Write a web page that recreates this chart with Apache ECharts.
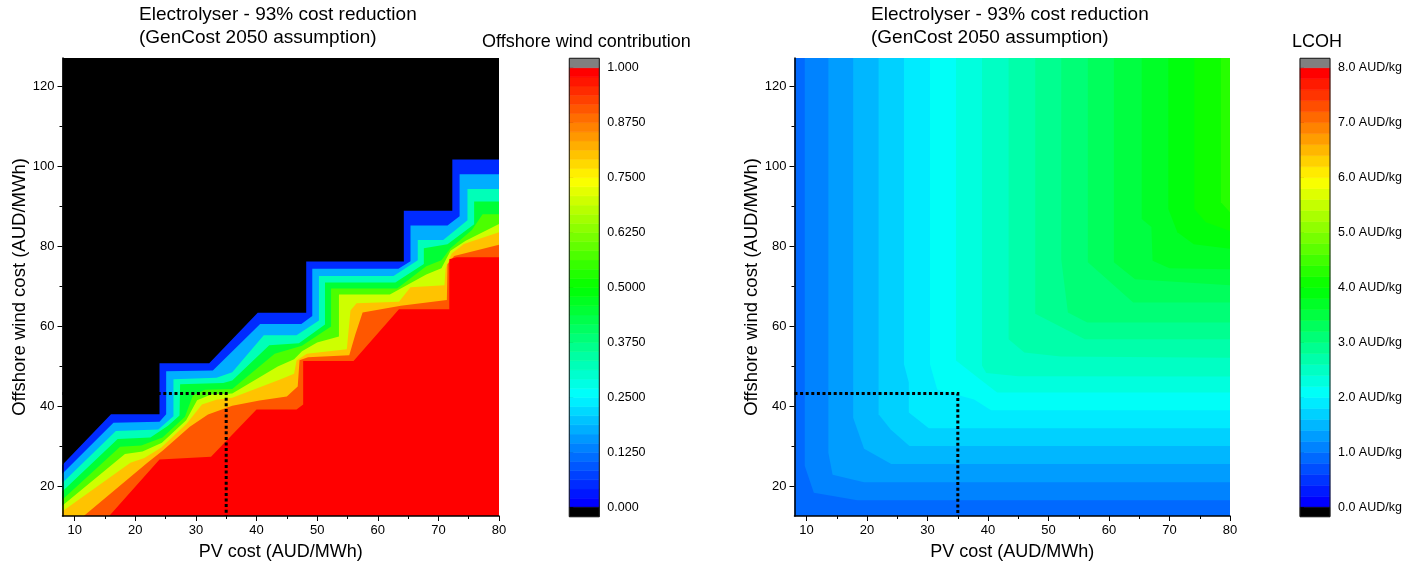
<!DOCTYPE html>
<html>
<head>
<meta charset="utf-8">
<title>Electrolyser - 93% cost reduction contours</title>
<script src="https://cdn.jsdelivr.net/npm/echarts@6.0.0/dist/echarts.min.js"></script>
<style>
html,body{margin:0;padding:0;background:#ffffff;}
#chart{width:1410px;height:566px;}
</style>
</head>
<body>
<div id="chart"></div>
<script>
// ================= DATA =================
const pvRange = [8, 80];          // PV cost axis (AUD/MWh)
const windRange = [12.7, 127];    // Offshore wind cost axis (AUD/MWh)
const pvTicks = [10, 20, 30, 40, 50, 60, 70, 80];
const pvMinorTicks = [15, 25, 35, 45, 55, 65, 75];
const windTicks = [20, 40, 60, 80, 100, 120];
const windMinorTicks = [30, 50, 70, 90, 110];
const markerPV = 35;              // dotted reference: PV cost
const markerWind = 43.3;          // dotted reference: offshore wind cost

// Left panel: offshore wind contribution isolines, points are [PV cost, wind cost]
const contributionLevels = [0, 0.1, 0.25, 0.375, 0.5, 0.625, 0.75, 0.85, 0.95];
const contribIso000 = [[8,25.5],[16,38.1],[24,38.1],[24,50.8],[32.2,50.8],[40.2,63.4],[48.2,63.4],[48.2,76.2],[64.3,76.2],[64.3,88.9],[72.3,88.9],[72.3,101.7],[80,101.7]];
const contribIso010 = [[8,23.3],[16.4,36.0],[24,36.2],[25.1,38.1],[25.1,48.8],[32.8,49.0],[40.6,60.6],[47.4,60.6],[49.2,62.6],[49.2,74.4],[63.4,74.4],[65.4,76.3],[65.4,85.2],[71.5,85.2],[73.5,87.5],[73.5,98.0],[80,98.0]];
const contribIso025 = [[8,21.0],[16.8,33.9],[23.8,34.3],[26.3,37.6],[26.3,46.8],[33.4,47.2],[36,48.6],[41.2,57.8],[46.6,57.8],[50.3,61.5],[50.3,72.6],[62.6,72.6],[66.6,76.5],[66.6,81.6],[70.8,81.6],[74.8,86.5],[74.8,94.3],[80,94.3]];
const contribIso0375 = [[8,18.9],[17.1,31.9],[22.5,32.3],[25.4,35.2],[27.3,37.8],[27.4,45.6],[34.5,45.9],[36,46.5],[42.1,55.3],[47,55.8],[51.3,60.5],[51.3,71.0],[62.9,71.0],[67.6,75.6],[67.6,79.5],[71.5,80.5],[75.9,85.5],[75.9,91.2],[80,91.2]];
const contribIso050 = [[8,16.8],[17.5,30.0],[21,30.3],[24.5,32.3],[28.2,37.5],[29.5,42.8],[31.5,44.2],[36,44.4],[43,53.2],[47.5,55.2],[52.3,60],[52.3,69.5],[63.2,69.5],[68,75],[70.5,76.5],[72,79.5],[75.5,84],[77.3,88],[80,88]];
const contribIso0625 = [[8,15.3],[18.3,28.2],[21.2,28.8],[24.4,31],[28.4,36.6],[30.2,41.6],[32.5,43],[36,43.3],[43.5,50],[46.2,51.8],[47.5,53.8],[50,56],[53.6,57.5],[53.6,68],[62,68],[68,73],[70.5,74.5],[72,78.9],[74.5,81.4],[80,85.6]];
const contribIso075 = [[8,13.9],[19.2,26.0],[21.5,27.2],[24.3,29.8],[28.5,35.8],[31,40.5],[33.5,41.8],[36,42.2],[44,46.8],[46.2,48.2],[46.6,51.5],[48.3,53.2],[54.9,54.3],[55.5,64.0],[56.5,65.8],[63.5,66.2],[65.4,69.8],[71,70.3],[71.2,74.5],[72.2,78.2],[74.2,80.6],[80,83.5]];
const contribIso085 = [[11.5,12.7],[22,26],[24.5,29],[29,35],[32,38],[36,40.2],[40.5,41.5],[45,42.5],[46.8,45],[47.1,51.6],[48.5,52.3],[55.3,52.8],[56.3,58],[57.5,63.5],[63.8,65.2],[71.4,66.6],[71.5,75.5],[72.6,77.6],[80,80.4]];
const contribIso095 = [[15.7,12.7],[24,26.8],[32.5,27.5],[40,39.3],[46.6,39.3],[47.7,40.5],[47.7,51.4],[56,51.4],[63.5,64.3],[71.8,64.3],[71.8,76.8],[73,77.3],[80,77.3]];
const contributionIsolines = [contribIso000, contribIso010, contribIso025, contribIso0375, contribIso050, contribIso0625, contribIso075, contribIso085, contribIso095];

// Right panel: LCOH isolines (AUD/kg), points are [PV cost, wind cost]
const lcohLevels = [1.0, 1.2, 1.4, 1.6, 1.8, 2.0, 2.2, 2.4, 2.6, 2.8, 3.0, 3.2, 3.4, 3.6, 3.8, 4.0, 4.2];
const lcohIsolines = [
  [[9.7,127],[9.7,25.2],[11.2,18.5],[18.4,16.65],[80,16.65]],
  [[13.6,127],[13.6,28.5],[14.3,23.0],[19.5,21.15],[80,21.15]],
  [[17.7,127],[17.7,37.2],[19.5,29.5],[24,25.7],[80,25.7]],
  [[21.9,127],[21.9,38.1],[23.9,34.3],[27,30.15],[80,30.15]],
  [[26.1,127],[26.1,50.6],[26.9,46],[26.9,38.5],[30.2,34.6],[80,34.6]],
  [[30.4,127],[30.4,50.6],[31.6,44.3],[37.7,41.8],[40.5,39.1],[80,39.1]],
  [[34.7,127],[34.7,51.5],[38.5,47],[41.5,43.5],[80,43.5]],
  [[39,127],[39,50.2],[39.7,48.4],[45,47.6],[80,47.5]],
  [[43.4,127],[43.4,56.8],[46,53.5],[52,52.5],[80,52.2]],
  [[47.8,127],[47.8,63.2],[56,56.8],[80,56.8]],
  [[52.1,127],[52.1,76.8],[53.2,63.5],[56.4,61],[80,61]],
  [[56.5,127],[56.5,76],[64,66],[80,66]],
  [[60.8,127],[60.8,76],[64.3,71.8],[80,70.3]],
  [[65.4,127],[65.4,86.8],[67,84.8],[67.2,76.4],[70,74.5],[80,74.3]],
  [[69.8,127],[69.8,89.3],[71.3,83.5],[74,80.5],[80,79.4]],
  [[74.1,127],[74.1,89.3],[76,86],[80,83.8]],
  [[78.5,127],[78.5,91],[80,88.5]]
];

// Colour bars
const contributionBarTicks = [0, 0.125, 0.25, 0.375, 0.5, 0.625, 0.75, 0.875, 1];
const contributionBarLabels = ['0.000', '0.1250', '0.2500', '0.3750', '0.5000', '0.6250', '0.7500', '0.8750', '1.000'];
const lcohBarTicks = [0, 1, 2, 3, 4, 5, 6, 7, 8];
const lcohBarLabels = ['0.0 AUD/kg', '1.0 AUD/kg', '2.0 AUD/kg', '3.0 AUD/kg', '4.0 AUD/kg', '5.0 AUD/kg', '6.0 AUD/kg', '7.0 AUD/kg', '8.0 AUD/kg'];

const panelTitle = 'Electrolyser - 93% cost reduction\n(GenCost 2050 assumption)';
const xName = 'PV cost (AUD/MWh)';
const yName = 'Offshore wind cost (AUD/MWh)';

// ================= STYLE / COLOUR MAP =================
const FONT = "'Liberation Sans', Arial, Helvetica, sans-serif";
const CONTRIB_BANDS = 48;
const CONTRIB_MAX = 1;
const LCOH_BANDS = 40;
const LCOH_MAX = 8;
const LCOH_STEP = LCOH_MAX / LCOH_BANDS;
const BELOW_COLOR = '#000000';
const ABOVE_COLOR = '#808080';
const PAD = 4; // polygons run under the axis lines (left / bottom) only

function rainbow(t) {
  t = Math.max(0, Math.min(1, t));
  let r, g, b;
  if (t < 0.25) { r = 0; g = 255 * t / 0.25; b = 255; }
  else if (t < 0.5) { r = 0; g = 255; b = 255 * (1 - (t - 0.25) / 0.25); }
  else if (t < 0.75) { r = 255 * (t - 0.5) / 0.25; g = 255; b = 0; }
  else { r = 255; g = 255 * (1 - (t - 0.75) / 0.25); b = 0; }
  return 'rgb(' + Math.round(r) + ',' + Math.round(g) + ',' + Math.round(b) + ')';
}
function bandColor(v, max, bands) {
  const i = Math.max(0, Math.min(bands - 1, Math.floor(v / max * bands + 1e-9)));
  return rainbow(i / (bands - 1));
}

const contribFills = contributionLevels.map((L, i) =>
  bandColor(i < contributionLevels.length - 1 ? (L + contributionLevels[i + 1]) / 2 : CONTRIB_MAX, CONTRIB_MAX, CONTRIB_BANDS));
const lcohFills = lcohLevels.map(L => bandColor(L + LCOH_STEP / 2, LCOH_MAX, LCOH_BANDS));
const lcohBase = bandColor(lcohLevels[0] - LCOH_STEP / 2, LCOH_MAX, LCOH_BANDS);

const EPS = 1e-9;
// high side of the contribution isolines lies to the lower right
function closeLowerRight(pts) {
  const first = pts[0];
  const fromLeft = first[0] <= pvRange[0] + EPS;
  const poly = [];
  if (fromLeft) poly.push([pvRange[0] - PAD, first[1]]);
  else poly.push([first[0], windRange[0] - PAD]);
  for (const p of pts) poly.push(p);
  poly.push([pvRange[1], windRange[0] - PAD]);
  if (fromLeft) poly.push([pvRange[0] - PAD, windRange[0] - PAD]);
  return poly;
}
// high side of the LCOH isolines lies to the upper right
function closeUpperRight(pts) {
  const poly = pts.slice();
  poly.push([pvRange[1], windRange[1]]);
  return poly;
}

function contourSeries(axisIdx, lines, fills, closeFn) {
  return {
    type: 'custom', xAxisIndex: axisIdx, yAxisIndex: axisIdx,
    clip: true, silent: true, animation: false, z: 2,
    data: lines.map((l, i) => [l[0][0], l[0][1], i]),
    renderItem: function (params, api) {
      const i = params.dataIndex;
      const pts = closeFn(lines[i]).map(p => api.coord(p));
      return { type: 'polygon', shape: { points: pts }, style: { fill: fills[i] } };
    }
  };
}

function colorbarSeries(axisIdx, bands, max, extra) {
  const items = [];
  for (let i = 0; i < bands; i++) {
    items.push({ lo: i * max / bands, hi: (i + 1) * max / bands, color: rainbow(i / (bands - 1)) });
  }
  items.push({ lo: max, hi: max + extra, color: ABOVE_COLOR });
  items.push({ lo: -extra, hi: 0, color: BELOW_COLOR });
  items.push({ lo: -extra, hi: max + extra, border: true });
  return {
    type: 'custom', xAxisIndex: axisIdx, yAxisIndex: axisIdx,
    silent: true, animation: false, z: 2,
    data: items.map(it => [0.5, (it.lo + it.hi) / 2]),
    renderItem: function (params, api) {
      const it = items[params.dataIndex];
      const p0 = api.coord([0, it.hi]);
      const p1 = api.coord([1, it.lo]);
      const shape = { x: p0[0], y: p0[1], width: p1[0] - p0[0], height: p1[1] - p0[1] };
      if (it.border) {
        return { type: 'rect', shape: shape, z2: 10, style: { fill: null, stroke: '#1a1a1a', lineWidth: 1 } };
      }
      return { type: 'rect', shape: shape, style: { fill: it.color, stroke: it.color, lineWidth: 0.6 } };
    }
  };
}

function markerSeries(axisIdx) {
  return {
    type: 'line', xAxisIndex: axisIdx, yAxisIndex: axisIdx,
    data: [[pvRange[0], markerWind], [markerPV, markerWind], [markerPV, windRange[0]]],
    symbol: 'none', silent: true, animation: false, z: 5,
    lineStyle: { color: '#000', width: 3, type: [3, 2.6], cap: 'butt', join: 'miter' }
  };
}

const tickLabelStyle = { color: '#000', fontSize: 13, fontFamily: FONT };
const nameStyle = { color: '#000', fontSize: 18, fontFamily: FONT };

function mainX(gridIndex) {
  return {
    type: 'value', gridIndex: gridIndex, position: 'bottom', min: pvRange[0], max: pvRange[1], z: 10,
    name: xName, nameLocation: 'middle', nameGap: 27, nameTextStyle: nameStyle,
    axisLine: { show: true, onZero: false, lineStyle: { color: '#000', width: 1.5 } },
    axisTick: { show: true, inside: false, length: 5, customValues: pvTicks, lineStyle: { color: '#000', width: 1 } },
    axisLabel: { show: true, margin: 8, customValues: pvTicks, ...tickLabelStyle },
    splitLine: { show: false }
  };
}
function minorX(gridIndex) {
  return {
    type: 'value', gridIndex: gridIndex, position: 'bottom', min: pvRange[0], max: pvRange[1], z: 10,
    axisLine: { show: false, onZero: false },
    axisTick: { show: true, inside: false, length: 3, customValues: pvMinorTicks, lineStyle: { color: '#000', width: 1 } },
    axisLabel: { show: false, customValues: pvMinorTicks },
    splitLine: { show: false }
  };
}
function mainY(gridIndex) {
  return {
    type: 'value', gridIndex: gridIndex, position: 'left', min: windRange[0], max: windRange[1], z: 10,
    name: yName, nameLocation: 'middle', nameGap: 33, nameTextStyle: { ...nameStyle, fontSize: 18.5 },
    axisLine: { show: true, onZero: false, lineStyle: { color: '#000', width: 1.5 } },
    axisTick: { show: true, inside: false, length: 5, customValues: windTicks, lineStyle: { color: '#000', width: 1 } },
    axisLabel: { show: true, margin: 8, customValues: windTicks, ...tickLabelStyle },
    splitLine: { show: false }
  };
}
function minorY(gridIndex) {
  return {
    type: 'value', gridIndex: gridIndex, position: 'left', min: windRange[0], max: windRange[1], z: 10,
    axisLine: { show: false, onZero: false },
    axisTick: { show: true, inside: false, length: 3, customValues: windMinorTicks, lineStyle: { color: '#000', width: 1 } },
    axisLabel: { show: false, customValues: windMinorTicks },
    splitLine: { show: false }
  };
}
function barX(gridIndex) {
  return { type: 'value', gridIndex: gridIndex, min: 0, max: 1, show: false };
}
function barY(gridIndex, max, extra, ticks, labels) {
  return {
    type: 'value', gridIndex: gridIndex, position: 'right', min: -extra, max: max + extra,
    axisLine: { show: false },
    axisTick: { show: true, inside: false, length: 4, customValues: ticks, lineStyle: { color: '#000', width: 1 } },
    axisLabel: {
      show: true, margin: 8, customValues: ticks, color: '#000', fontSize: 12.5, fontFamily: FONT,
      formatter: function (v) {
        const i = ticks.findIndex(t => Math.abs(t - v) < 1e-6);
        return i >= 0 ? labels[i] : '';
      }
    },
    splitLine: { show: false }
  };
}

const CB_EXTRA_FRAC = 0.0214;
const titleStyle = { color: '#000', fontSize: 19, lineHeight: 23, fontWeight: 'normal', fontFamily: FONT };
const barTitleStyle = { color: '#000', fontSize: 18, lineHeight: 22, fontWeight: 'normal', fontFamily: FONT };

const option = {
  backgroundColor: '#ffffff',
  animation: false,
  title: [
    { text: panelTitle, left: 139, top: 3, padding: 0, textStyle: titleStyle },
    { text: panelTitle, left: 871, top: 3, padding: 0, textStyle: titleStyle },
    { text: 'Offshore wind contribution', left: 482, top: 31, padding: 0, textStyle: barTitleStyle },
    { text: 'LCOH', left: 1292, top: 31, padding: 0, textStyle: barTitleStyle }
  ],
  grid: [
    { left: 62.5, top: 58, width: 436.5, height: 458.5, show: true, backgroundColor: BELOW_COLOR, borderWidth: 0 },
    { left: 794.5, top: 58, width: 435.5, height: 458.5, show: true, backgroundColor: lcohBase, borderWidth: 0 },
    { left: 569.3, top: 58.3, width: 30, height: 458.4 },
    { left: 1300, top: 58.3, width: 30, height: 458.4 }
  ],
  xAxis: [mainX(0), minorX(0), mainX(1), minorX(1), barX(2), barX(3)],
  yAxis: [
    mainY(0), minorY(0), mainY(1), minorY(1),
    barY(2, CONTRIB_MAX, CB_EXTRA_FRAC * CONTRIB_MAX, contributionBarTicks, contributionBarLabels),
    barY(3, LCOH_MAX, CB_EXTRA_FRAC * LCOH_MAX, lcohBarTicks, lcohBarLabels)
  ],
  series: [
    contourSeries(0, contributionIsolines, contribFills, closeLowerRight),
    markerSeries(0),
    contourSeries(2, lcohIsolines, lcohFills, closeUpperRight),
    markerSeries(2),
    colorbarSeries(4, CONTRIB_BANDS, CONTRIB_MAX, CB_EXTRA_FRAC * CONTRIB_MAX),
    colorbarSeries(5, LCOH_BANDS, LCOH_MAX, CB_EXTRA_FRAC * LCOH_MAX)
  ]
};

const chart = echarts.init(document.getElementById('chart'), null, { renderer: 'canvas' });
chart.setOption(option);
</script>
</body>
</html>
